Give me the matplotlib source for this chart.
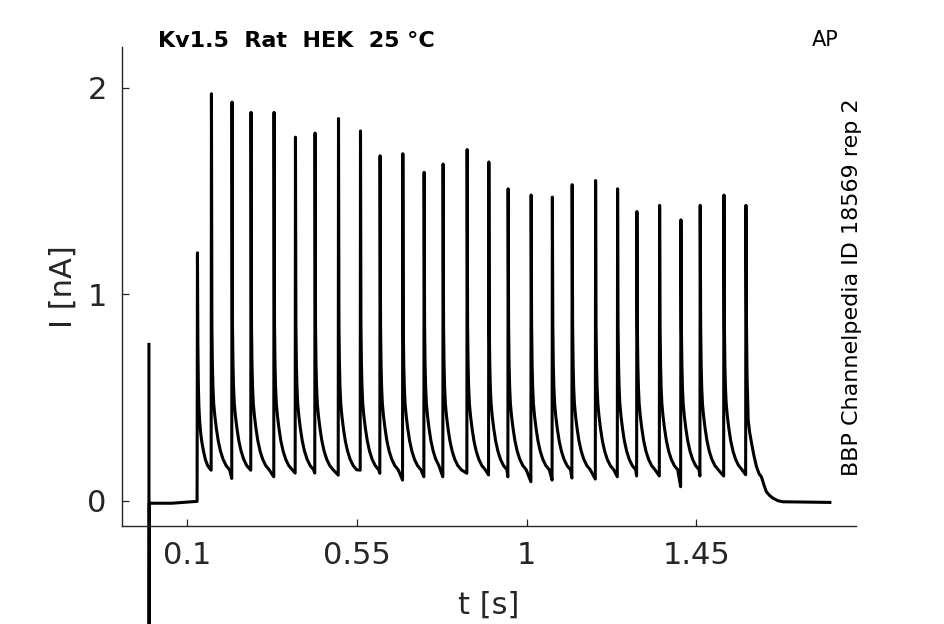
import numpy as np
import matplotlib
matplotlib.use('Agg')
import matplotlib.pyplot as plt

# Пики тока (время пика, с; амплитуда, нА)
spike_t = [0.1276, 0.1647, 0.2193, 0.2697, 0.3307, 0.3874, 0.4394, 0.5015, 0.5598,
           0.6118, 0.6720, 0.7285, 0.7788, 0.8425, 0.9000, 0.9512, 1.0122, 1.0684,
           1.1209, 1.1830, 1.2413, 1.2925, 1.3527, 1.4092, 1.4603, 1.5232, 1.5815]
spike_peak = [1.20, 1.97, 1.93, 1.88, 1.88, 1.76, 1.78, 1.85, 1.79,
              1.67, 1.68, 1.59, 1.63, 1.70, 1.64, 1.51, 1.48, 1.47,
              1.53, 1.55, 1.51, 1.40, 1.43, 1.36, 1.43, 1.48, 1.43]
# минимум тока перед следующим пиком
trough_I = [0.148, 0.108, 0.148, 0.116, 0.134, 0.134, 0.124, 0.148, 0.133,
            0.100, 0.116, 0.116, 0.133, 0.125, 0.116, 0.092, 0.100, 0.110,
            0.105, 0.116, 0.120, 0.120, 0.068, 0.120, 0.120, 0.126]

# спад после первого пика
first_dt = [0.0012, 0.0025, 0.004, 0.006, 0.009, 0.012, 0.016, 0.021, 0.027, 0.033]
first_I = [0.75, 0.55, 0.45, 0.38, 0.32, 0.28, 0.24, 0.20, 0.17, 0.155]
# форма спада после пика (сдвиг от пика, с; ток, нА)
decay_dt = [0.0012, 0.0025, 0.004, 0.006, 0.009, 0.013, 0.018, 0.024, 0.031, 0.039, 0.048]
decay_I = [0.85, 0.66, 0.55, 0.47, 0.41, 0.35, 0.29, 0.24, 0.20, 0.17, 0.15]
# спад после последнего пика до нуля
end_dt = [0.0015, 0.003, 0.006, 0.010, 0.015, 0.021, 0.028, 0.035, 0.041, 0.048,
          0.054, 0.063, 0.072, 0.085, 0.098]
end_I = [0.85, 0.60, 0.39, 0.33, 0.278, 0.22, 0.165, 0.13, 0.116, 0.075,
         0.044, 0.025, 0.012, 0.0, -0.005]

# начало записи: артефакт и базовая линия
start_t = [-0.0010, -0.0006, 0.0, 0.06, 0.1266]
start_I = [0.757, -3.0, -0.012, -0.012, -0.003]
t_stop = 1.804
base_end = -0.008

# сборка кривой из считанных точек
t = list(start_t)
I = list(start_I)
for k, (ts, pk) in enumerate(zip(spike_t, spike_peak)):
    t.append(ts)
    I.append(pk)
    if k < len(spike_t) - 1:
        nxt = spike_t[k + 1]
        dts, vals = (first_dt, first_I) if k == 0 else (decay_dt, decay_I)
        for dt, v in zip(dts, vals):
            if ts + dt < nxt - 0.003:
                t.append(ts + dt)
                I.append(v)
        t.append(nxt - 0.0008)
        I.append(trough_I[k])
    else:
        for dt, v in zip(end_dt, end_I):
            t.append(ts + dt)
            I.append(v)
t.append(t_stop)
I.append(base_end)

fig = plt.figure(figsize=(9.45, 6.24), dpi=100)
ax = fig.add_axes([0.1291, 0.157, 0.7767, 0.7676])

ax.plot(t, I, color='black', linewidth=2.2, clip_on=False)

ax.set_xlim(-0.0724, 1.8732)
ax.set_ylim(-0.1224, 2.1964)
ax.set_xticks([0.1, 0.55, 1, 1.45])
ax.set_xticklabels(['0.1', '0.55', '1', '1.45'])
ax.set_yticks([0, 1, 2])
ax.set_yticklabels(['0', '1', '2'])

for s in ['top', 'right']:
    ax.spines[s].set_visible(False)
for s in ['left', 'bottom']:
    ax.spines[s].set_color('#262626')
    ax.spines[s].set_linewidth(1.0)
ax.tick_params(direction='in', length=5, width=0.9, color='#262626',
               labelsize=22, labelcolor='#262626', pad=11)

ax.set_xlabel('t [s]', fontsize=22, color='#262626')
ax.xaxis.set_label_coords(0.5, -0.1357)
ax.set_ylabel('I [nA]', fontsize=22, color='#262626')
ax.yaxis.set_label_coords(-0.06, 0.5)

fig.text(158 / 945, 1 - 46.7 / 624, 'Kv1.5  Rat  HEK  25 °C',
         ha='left', va='baseline', fontsize=16, fontweight='bold')
fig.text(839 / 945, 1 - 45.7 / 624, 'AP', ha='right', va='baseline', fontsize=15)
fig.text(851.5 / 945, 1 - 287.5 / 624, 'BBP Channelpedia ID 18569 rep 2',
         rotation=90, ha='center', va='center', fontsize=16)

fig.savefig('out.png', dpi=100)
